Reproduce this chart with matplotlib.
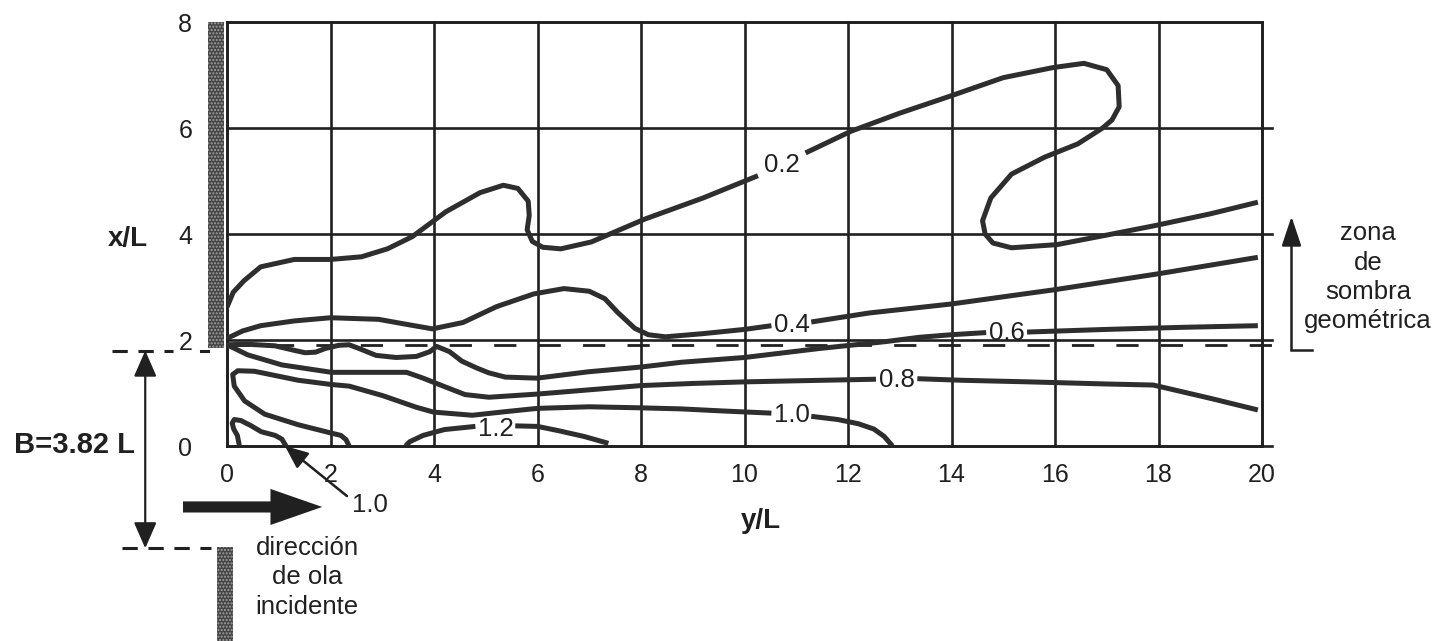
import numpy as np
import matplotlib
matplotlib.use("Agg")
import matplotlib.pyplot as plt
from matplotlib.patches import Rectangle, FancyArrow

plt.rcParams['font.family'] = ['Liberation Sans', 'DejaVu Sans']

# ---------------- data ----------------
u_ticks = [0, 2, 4, 6, 8, 10, 12, 14, 16, 18, 20]     # y/L
v_ticks = [0, 2, 4, 6, 8]                              # x/L
B_over_L = 3.82
shadow_v = B_over_L / 2.0

# contour K = 0.2
c02_u = [0.0, 0.12, 0.33, 0.65, 1.3, 2.0, 2.6, 3.1, 3.58, 4.23, 4.89, 5.34, 5.62, 5.82, 5.84,
         5.8, 5.9, 6.1, 6.45, 7.04, 8.07, 9.2, 10.26,
         11.18, 12.06, 13.0, 13.97, 15.0, 15.96, 16.56, 17.0, 17.22, 17.24, 17.1, 16.92, 16.44,
         15.8, 15.16, 14.76, 14.6, 14.65, 14.8, 15.16, 16.04, 17.0, 17.94, 19.0, 19.92]
c02_v = [2.62, 2.9, 3.12, 3.38, 3.52, 3.52, 3.57, 3.72, 3.95, 4.42, 4.78, 4.92, 4.86, 4.62, 4.35,
         4.08, 3.86, 3.75, 3.72, 3.85, 4.28, 4.68, 5.1,
         5.53, 5.94, 6.28, 6.6, 6.95, 7.14, 7.22, 7.1, 6.8, 6.4, 6.15, 6.0, 5.7,
         5.45, 5.13, 4.68, 4.25, 4.0, 3.83, 3.74, 3.8, 3.98, 4.16, 4.38, 4.6]
c02_gap = 23

# contour K = 0.4
c04_u = [0.0, 0.3, 0.65, 1.3, 2.0, 2.93, 3.5, 3.97, 4.56, 5.21, 5.93, 6.51, 7.0, 7.3, 7.55,
         7.88, 8.14, 8.47, 9.2, 10.0, 10.52,
         11.29, 12.41, 14.0, 16.0, 18.0, 19.92]
c04_v = [2.03, 2.17, 2.27, 2.36, 2.42, 2.39, 2.29, 2.21, 2.33, 2.63, 2.87, 2.97, 2.92, 2.78, 2.52,
         2.22, 2.1, 2.06, 2.12, 2.2, 2.27,
         2.34, 2.51, 2.68, 2.95, 3.25, 3.56]
c04_gap = 21

# contour K = 0.6
c06_u = [0.0, 0.4, 0.93, 1.32, 1.51, 1.71, 1.9, 2.16, 2.36, 2.55, 2.88, 3.27, 3.66, 3.92, 4.05,
         4.3, 4.54, 4.83, 5.06, 5.38, 5.99, 6.98, 8.0, 8.78, 10.0, 11.45, 12.73, 13.37, 14.0, 14.67,
         15.46, 17.0, 18.5, 19.92]
c06_v = [1.91, 1.92, 1.89, 1.80, 1.76, 1.77, 1.84, 1.90, 1.91, 1.84, 1.71, 1.67, 1.69, 1.78, 1.88,
         1.78, 1.6, 1.47, 1.38, 1.3, 1.28, 1.4, 1.49, 1.58, 1.67, 1.84, 1.97, 2.05, 2.1, 2.14,
         2.15, 2.2, 2.24, 2.27]
c06_gap = 30

# contour K = 0.8
c08_u = [0.0, 0.4, 1.06, 2.02, 2.68, 3.47, 3.79, 4.1, 4.31, 4.6, 5.06, 6.0, 7.0, 8.0, 9.0, 10.0,
         11.0, 12.54,
         13.34, 14.2, 15.5, 17.0, 17.9, 19.0, 19.92]
c08_v = [1.91, 1.72, 1.53, 1.39, 1.39, 1.39, 1.28, 1.16, 1.08, 0.97, 0.92, 0.98, 1.06, 1.14, 1.18, 1.21,
         1.23, 1.26,
         1.27, 1.24, 1.21, 1.17, 1.15, 0.9, 0.68]
c08_gap = 18

# contour K = 1.0 (large)
c10_u = [2.36, 2.3, 2.2, 2.03, 1.38, 0.73, 0.34, 0.14, 0.11, 0.21, 0.53, 1.38, 2.02, 2.36, 3.01,
         3.66, 3.99, 4.74, 5.4, 6.0, 7.0, 8.0, 8.78, 9.6, 10.52,
         11.29, 11.8, 12.2, 12.5, 12.7, 12.86]
c10_v = [0.0, 0.12, 0.2, 0.24, 0.40, 0.60, 0.85, 1.13, 1.35, 1.42, 1.41, 1.24, 1.16, 1.13, 0.95,
         0.73, 0.64, 0.58, 0.65, 0.71, 0.74, 0.72, 0.70, 0.66, 0.62,
         0.56, 0.5, 0.42, 0.32, 0.18, 0.0]
c10_gap = 25

# contour K = 1.0 (small, near origin)
c10s_u = [0.24, 0.2, 0.13, 0.1, 0.14, 0.27, 0.47, 0.66, 0.93, 1.06, 1.14]
c10s_v = [0.0, 0.2, 0.32, 0.43, 0.5, 0.48, 0.38, 0.27, 0.2, 0.13, 0.0]

# contour K = 1.2
c12_u = [3.45, 3.53, 3.79, 4.2, 4.8, 5.57, 6.0, 6.4, 6.9, 7.37]
c12_v = [0.0, 0.08, 0.2, 0.31, 0.37, 0.38, 0.37, 0.29, 0.18, 0.05]
c12_gap = 5

contours = [
    ("0.2", c02_u, c02_v, c02_gap, (10.72, 5.30)),
    ("0.4", c04_u, c04_v, c04_gap, (10.91, 2.28)),
    ("0.6", c06_u, c06_v, c06_gap, (15.07, 2.13)),
    ("0.8", c08_u, c08_v, c08_gap, (12.94, 1.25)),
    ("1.0", c10_u, c10_v, c10_gap, (10.91, 0.59)),
    ("1.2", c12_u, c12_v, c12_gap, (5.19, 0.33)),
]

# ---------------- figure ----------------
W, H = 1438, 641
fig = plt.figure(figsize=(W / 100, H / 100), dpi=100)
fig.patch.set_facecolor("white")
ax = fig.add_axes([227 / W, 1 - 446 / H, 1035 / W, 424 / H])
ax.set_xlim(0, 20)
ax.set_ylim(0, 8)

ink = "#202020"
line_c = "#2e2e2e"

for s in ax.spines.values():
    s.set_linewidth(1.9)
    s.set_color(ink)

ax.set_xticks(u_ticks)
ax.set_yticks(v_ticks)
ax.set_xticklabels([str(t) for t in u_ticks])
ax.set_yticklabels([str(t) for t in v_ticks])
ax.tick_params(axis='x', length=0, pad=12, labelsize=18, colors=ink)
ax.tick_params(axis='y', length=0, pad=25, labelsize=18, colors=ink)

# grid
for u in u_ticks:
    ax.plot([u, u], [0, 8], color=ink, lw=1.9, zorder=1, clip_on=False)
for v in v_ticks:
    ax.plot([0, 20.2 if v < 8 else 20], [v, v], color=ink, lw=1.9, zorder=1, clip_on=False)

# geometric shadow line (dashed)
ax.plot([0, 20.35], [shadow_v, shadow_v], color=ink, lw=2.0, ls=(0, (8, 8)), zorder=2, clip_on=False)

# contours
for lab, cu, cv, k, (lx, ly) in contours:
    ax.plot(cu[:k], cv[:k], color=line_c, lw=3.6, solid_capstyle='butt', solid_joinstyle='round', zorder=3)
    ax.plot(cu[k:], cv[k:], color=line_c, lw=3.6, solid_capstyle='butt', solid_joinstyle='round', zorder=3)
    ax.text(lx, ly, lab, ha='center', va='center', fontsize=18.5, color=ink, zorder=5)
ax.plot(c10s_u, c10s_v, color=line_c, lw=3.6, solid_joinstyle='round', zorder=3)

# breakwaters
ax.add_patch(Rectangle((-0.37, 1.85), 0.31, 6.15, facecolor="#454545", edgecolor="#a0a0a0",
                       hatch='.....', lw=0, zorder=6, clip_on=False))
ax.add_patch(Rectangle((-0.19, -3.9), 0.31, 2.0, facecolor="#454545", edgecolor="#a0a0a0",
                       hatch='.....', lw=0, zorder=6, clip_on=False))

# outer dashed lines marking the gap
ax.plot([-2.22, -1.05], [1.8, 1.8], color=ink, lw=2.2, ls=(0, (5, 3.5)), clip_on=False)
ax.plot([-0.5, -0.37], [1.8, 1.8], color=ink, lw=2.2, clip_on=False)
ax.plot([-2.03, -0.3], [-1.93, -1.93], color=ink, lw=2.2, ls=(0, (5, 3.5)), clip_on=False)

# gap width arrow
ax.annotate('', xy=(-1.58, 1.8), xytext=(-1.58, -1.93),
            arrowprops=dict(arrowstyle='<|-|>,head_length=0.8,head_width=0.35', lw=1.6, color=ink,
                            mutation_scale=20, shrinkA=0, shrinkB=0), annotation_clip=False)
ax.text(-2.94, 0.02, "B=3.82 L", ha='center', va='center', fontsize=21, fontweight='bold', color=ink)

# axis labels
ax.text(-1.91, 3.9, "x/L", ha='center', va='center', fontsize=20, fontweight='bold', color=ink)
ax.text(10.32, -1.41, "y/L", ha='center', va='center', fontsize=20, fontweight='bold', color=ink)

# incident wave direction
ax.add_patch(FancyArrow(-0.85, -1.15, 2.69, 0, width=0.21, head_width=0.68, head_length=1.0,
                        length_includes_head=True, color=ink, lw=0, clip_on=False))
ax.text(1.55, -2.48, "dirección\nde ola\nincidente", ha='center', va='center', fontsize=18.5,
        linespacing=1.28, color=ink)

# small 1.0 label with arrow
ax.annotate("1.0", xy=(1.12, 0.0), xytext=(2.76, -1.11), ha='center', va='center', fontsize=18.5,
            color=ink,
            arrowprops=dict(arrowstyle='-|>,head_length=0.7,head_width=0.3', lw=1.8, color=ink,
                            mutation_scale=20, shrinkA=2, shrinkB=0, relpos=(0.0, 0.7)),
            annotation_clip=False)

# geometric shadow zone
ax.annotate('', xy=(20.57, 4.33), xytext=(20.57, 1.82),
            arrowprops=dict(arrowstyle='-|>,head_length=0.9,head_width=0.3', lw=1.8, color=ink,
                            mutation_scale=20, shrinkA=0, shrinkB=0), annotation_clip=False)
ax.plot([20.57, 20.96], [1.82, 1.82], color=ink, lw=1.8, clip_on=False)
ax.text(22.05, 3.18, "zona\nde\nsombra\ngeométrica", ha='center', va='center', fontsize=18.5,
        linespacing=1.28, color=ink)

fig.savefig("out.png", dpi=100, facecolor="white")
